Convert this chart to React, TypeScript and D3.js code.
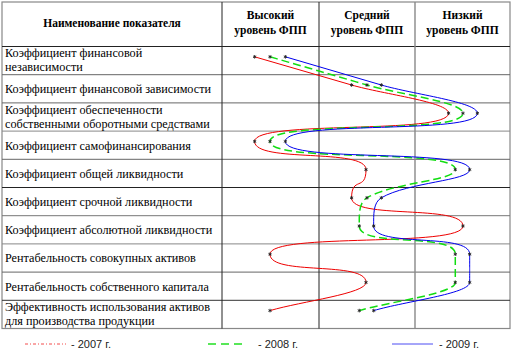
import React from "react";
import * as d3 from "d3";

const indicators: string[][] = [
  ["Коэффициент финансовой", "независимости"],
  ["Коэффициент финансовой зависимости"],
  ["Коэффициент обеспеченности", "собственными оборотными средствами"],
  ["Коэффициент самофинансирования"],
  ["Коэффициент общей ликвидности"],
  ["Коэффициент срочной ликвидности"],
  ["Коэффициент абсолютной ликвидности"],
  ["Рентабельность совокупных активов"],
  ["Рентабельность собственного капитала"],
  ["Эффективность использования активов", "для производства продукции"],
];

const levelHeaders: string[][] = [
  ["Высокий", "уровень ФПП"],
  ["Средний", "уровень ФПП"],
  ["Низкий", "уровень ФПП"],
];

const nameHeader = "Наименование показателя";

const years = ["2007", "2008", "2009"];
const values2007 = [0.34, 1.35, 2.36, 0.34, 1.5, 1.35, 2.51, 0.5, 1.5, 0.5];
const values2008 = [0.5, 1.51, 2.51, 0.5, 2.43, 1.51, 1.43, 2.43, 2.43, 1.43];
const values2009 = [0.66, 1.66, 2.66, 0.66, 2.58, 1.66, 1.58, 2.58, 2.58, 1.58];

const W = 515;
const H = 355;
const tLeft = 2;
const tRight = 510;
const tTop = 2;
const headBottom = 46.5;
const tBottom = 328.5;
const colX = [tLeft, 222, 319, 415, tRight];

// Custom d3 curve: vertical tangents at horizontal extrema, flat sweeps between them
function curveSweep(context: any) {
  let pts: [number, number][] = [];
  return {
    areaStart() {},
    areaEnd() {},
    lineStart() {
      pts = [];
    },
    lineEnd() {
      const n = pts.length;
      if (!n) return;
      const tangents = pts.map((p, i) => {
        const prev = pts[Math.max(0, i - 1)];
        const next = pts[Math.min(n - 1, i + 1)];
        if (i > 0 && i < n - 1) {
          const s0 = p[0] - prev[0];
          const s1 = next[0] - p[0];
          if (s0 * s1 <= 0) return { dx: 0, dy: 1, vertical: true };
        }
        const dx = next[0] - prev[0];
        const dy = next[1] - prev[1];
        const len = Math.hypot(dx, dy) || 1;
        return { dx: dx / len, dy: dy / len, vertical: false };
      });
      context.moveTo(pts[0][0], pts[0][1]);
      for (let i = 0; i < n - 1; i++) {
        const a = pts[i];
        const b = pts[i + 1];
        const ta = tangents[i];
        const tb = tangents[i + 1];
        const h = b[1] - a[1];
        const seg = Math.hypot(b[0] - a[0], h);
        const both = ta.vertical && tb.vertical;
        const la = ta.vertical ? h * (both ? 0.78 : 0.4) : seg / 3;
        const lb = tb.vertical ? h * (both ? 0.78 : 0.4) : seg / 3;
        context.bezierCurveTo(
          a[0] + ta.dx * la,
          a[1] + ta.dy * la,
          b[0] - tb.dx * lb,
          b[1] - tb.dy * lb,
          b[0],
          b[1]
        );
      }
    },
    point(x: number, y: number) {
      pts.push([+x, +y]);
    },
  };
}

const SERIF = "Liberation Serif";
const SANS = "Liberation Sans";

export default function App() {
  const n = indicators.length;
  const x = d3.scaleLinear().domain([0, 3]).range([222, 510]);
  const rowTop = d3.scaleLinear().domain([0, n]).range([headBottom, tBottom]);
  const yMark = (i: number) => rowTop(i) + 10.3;

  const series = [
    { year: years[0], values: values2007, color: "#ee0000", width: 1, dash: "", legendDash: "3,2,1,2" },
    { year: years[1], values: values2008, color: "#11dd11", width: 1.5, dash: "8,4", legendDash: "8,5" },
    { year: years[2], values: values2009, color: "#0000ee", width: 1, dash: "", legendDash: "" },
  ];

  const line = d3
    .line<number>()
    .x((d) => x(d))
    .y((_, i) => yMark(i))
    .curve(curveSweep as any);

  const star = d3.symbol().type(d3.symbolAsterisk).size(9);

  const hLineColors = ["#222", "#666", "#666", "#888", "#666", "#222", "#777", "#888", "#666", "#333"];

  const legendPos = [
    { x1: 25, x2: 66, tx: 71 },
    { x1: 208, x2: 243, tx: 258 },
    { x1: 392, x2: 433, tx: 439 },
  ];

  return (
    <svg width={W} height={H} style={{ position: "absolute", left: 0, top: 0, background: "#fff" }}>
      <rect x={tLeft} y={tTop} width={tRight - tLeft} height={tBottom - tTop} fill="#fff" stroke="#888" strokeWidth={1.2} />
      {d3.range(0, n).map((i) => (
        <line key={"h" + i} x1={tLeft} x2={tRight} y1={rowTop(i)} y2={rowTop(i)} stroke={hLineColors[i]} strokeWidth={1} />
      ))}
      {colX.slice(1, 4).map((cx, i) => (
        <line key={"v" + i} x1={cx} x2={cx} y1={tTop} y2={tBottom} stroke={i === 2 ? "#888" : "#222"} strokeWidth={i === 2 ? 1.4 : 1} />
      ))}
      <text x={(colX[0] + colX[1]) / 2} y={27} textAnchor="middle" fontFamily={SERIF} fontWeight="bold" fontSize={11.5} fill="#000">
        {nameHeader}
      </text>
      {levelHeaders.map((lines, c) => (
        <text key={"lh" + c} textAnchor="middle" fontFamily={SERIF} fontWeight="bold" fontSize={11.5} fill="#000">
          {lines.map((t, k) => (
            <tspan key={k} x={(colX[c + 1] + colX[c + 2]) / 2} y={19 + k * 15}>
              {t}
            </tspan>
          ))}
        </text>
      ))}
      {indicators.map((lines, i) => (
        <text key={"r" + i} fontFamily={SERIF} fontSize={12.2} fill="#000">
          {lines.length === 1 ? (
            <tspan x={5} y={rowTop(i) + 18.5}>
              {lines[0]}
            </tspan>
          ) : (
            lines.map((t, k) => (
              <tspan key={k} x={5} y={rowTop(i) + 10.8 + k * 14}>
                {t}
              </tspan>
            ))
          )}
        </text>
      ))}
      {series.map((s) => (
        <path key={"p" + s.year} d={line(s.values) || ""} fill="none" stroke={s.color} strokeWidth={s.width} strokeDasharray={s.dash || undefined} />
      ))}
      {series.map((s) =>
        s.values.map((v, i) => (
          <path key={"m" + s.year + i} d={star() || ""} transform={`translate(${x(v)},${yMark(i)})`} fill="none" stroke="#222" strokeWidth={0.9} />
        ))
      )}
      {series.map((s, k) => (
        <g key={"lg" + s.year}>
          <line x1={legendPos[k].x1} x2={legendPos[k].x2} y1={344} y2={344} stroke={s.color} strokeOpacity={0.7} strokeWidth={k === 1 ? 2 : 1} strokeDasharray={s.legendDash || undefined} />
          <text x={legendPos[k].tx} y={348} fontFamily={SANS} fontSize={11} fill="#222">
            {"- " + s.year + " г."}
          </text>
        </g>
      ))}
    </svg>
  );
}
